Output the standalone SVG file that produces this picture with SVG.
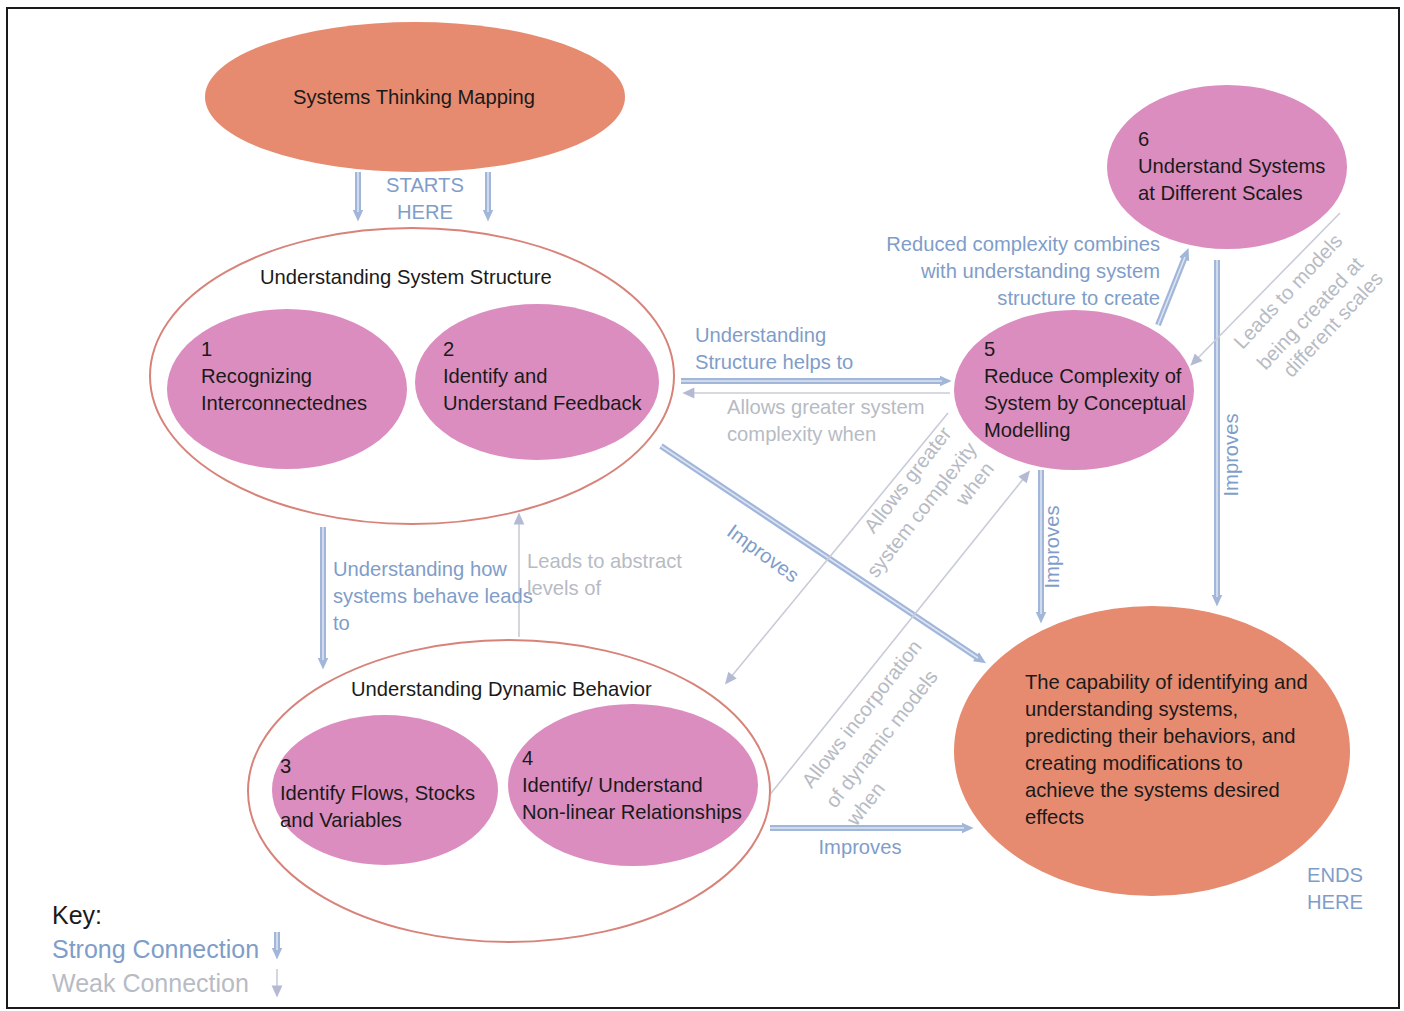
<svg xmlns="http://www.w3.org/2000/svg" width="1404" height="1011" viewBox="0 0 1404 1011">
  <style>
    text { font-family: "Liberation Sans", Arial, sans-serif; font-size: 20.2px; fill: #1a1a1a; }
    .salmon { fill: #e68b70; }
    .pink { fill: #db8dbf; }
    .group { fill: #ffffff; stroke: #d7837a; stroke-width: 2; }
    .blue { fill: #7f9dc9; }
    .grey { fill: #b7bbc4; }
    .key { font-size: 25px; }
    .strong { stroke: #a2b6da; stroke-width: 6; fill: none; }
    .strong-in { stroke: #dbe4f2; stroke-width: 1.6; fill: none; }
    .weak { stroke: #c8ccd8; stroke-width: 1.6; fill: none; }
    .mid { text-anchor: middle; }
  </style>
  <defs>
    <marker id="headStrong" viewBox="0 0 10 10" refX="2" refY="5" markerWidth="12" markerHeight="12" markerUnits="userSpaceOnUse" orient="auto">
      <path d="M0,0.5 L10,5 L0,9.5 z" fill="#a2b6da"/>
    </marker>
    <marker id="headWeak" viewBox="0 0 10 10" refX="2" refY="5" markerWidth="14" markerHeight="12" markerUnits="userSpaceOnUse" orient="auto">
      <path d="M0,0.5 L10,5 L0,9.5 z" fill="#b4b9d4"/>
    </marker>
  </defs>

  <rect x="0" y="0" width="1404" height="1011" fill="#ffffff"/>
  <rect x="7" y="8" width="1392" height="1000" fill="none" stroke="#1a1a1a" stroke-width="2"/>

  <!-- connectors -->
  <g id="connectors">
    <!-- strong connections -->
    <line class="strong" x1="358" y1="172" x2="358" y2="212" marker-end="url(#headStrong)"/>
    <line class="strong-in" x1="358" y1="172" x2="358" y2="212"/>
    <line class="strong" x1="488" y1="172" x2="488" y2="212" marker-end="url(#headStrong)"/>
    <line class="strong-in" x1="488" y1="172" x2="488" y2="212"/>

    <line class="strong" x1="681" y1="381" x2="942" y2="381" marker-end="url(#headStrong)"/>
    <line class="strong-in" x1="681" y1="381" x2="942" y2="381"/>

    <line class="strong" x1="661" y1="446" x2="978" y2="658" marker-end="url(#headStrong)"/>
    <line class="strong-in" x1="661" y1="446" x2="978" y2="658"/>

    <line class="strong" x1="323" y1="527" x2="323" y2="660" marker-end="url(#headStrong)"/>
    <line class="strong-in" x1="323" y1="527" x2="323" y2="660"/>

    <line class="strong" x1="1041" y1="470" x2="1041" y2="614" marker-end="url(#headStrong)"/>
    <line class="strong-in" x1="1041" y1="470" x2="1041" y2="614"/>

    <line class="strong" x1="1158" y1="325" x2="1185" y2="257" marker-end="url(#headStrong)"/>
    <line class="strong-in" x1="1158" y1="325" x2="1185" y2="257"/>

    <line class="strong" x1="1217" y1="260" x2="1217" y2="597" marker-end="url(#headStrong)"/>
    <line class="strong-in" x1="1217" y1="260" x2="1217" y2="597"/>

    <line class="strong" x1="770" y1="828" x2="964" y2="828" marker-end="url(#headStrong)"/>
    <line class="strong-in" x1="770" y1="828" x2="964" y2="828"/>

    <!-- weak connections -->
    <line class="weak" x1="950" y1="393" x2="692" y2="393" marker-end="url(#headWeak)"/>
    <line class="weak" x1="519" y1="637" x2="519" y2="522" marker-end="url(#headWeak)"/>
    <line class="weak" x1="948" y1="413" x2="731" y2="677" marker-end="url(#headWeak)"/>
    <line class="weak" x1="768" y1="797" x2="1024" y2="478" marker-end="url(#headWeak)"/>
    <line class="weak" x1="1340" y1="213" x2="1197" y2="359" marker-end="url(#headWeak)"/>
  </g>

  <!-- connector labels -->
  <g id="labels">
    <text class="blue mid" x="425" y="192">STARTS</text>
    <text class="blue mid" x="425" y="219">HERE</text>

    <text class="blue" x="695" y="342">Understanding</text>
    <text class="blue" x="695" y="369">Structure helps to</text>
    <text class="grey" x="727" y="414">Allows greater system</text>
    <text class="grey" x="727" y="441">complexity when</text>

    <text class="blue" x="333" y="576">Understanding how</text>
    <text class="blue" x="333" y="603">systems behave leads</text>
    <text class="blue" x="333" y="630">to</text>
    <text class="grey" x="527" y="568">Leads to abstract</text>
    <text class="grey" x="527" y="595">levels of</text>

    <text class="blue mid" transform="translate(759,559) rotate(36)">Improves</text>

    <text class="grey mid" transform="translate(913,484) rotate(-52)">Allows greater</text>
    <text class="grey mid" transform="translate(927,514) rotate(-52)">system complexity</text>
    <text class="grey mid" transform="translate(980,488) rotate(-52)">when</text>

    <text class="grey mid" transform="translate(867,718) rotate(-52)">Allows incorporation</text>
    <text class="grey mid" transform="translate(887,743) rotate(-52)">of dynamic models</text>
    <text class="grey mid" transform="translate(871,808) rotate(-52)">when</text>

    <text class="blue" text-anchor="end" x="1160" y="251">Reduced complexity combines</text>
    <text class="blue" text-anchor="end" x="1160" y="278">with understanding system</text>
    <text class="blue" text-anchor="end" x="1160" y="305">structure to create</text>

    <text class="grey mid" transform="translate(1293,296) rotate(-47)">Leads to models</text>
    <text class="grey mid" transform="translate(1315,318) rotate(-47)">being created at</text>
    <text class="grey mid" transform="translate(1338,329) rotate(-47)">different scales</text>

    <text class="blue mid" transform="translate(1059,547) rotate(-90)">Improves</text>
    <text class="blue mid" transform="translate(1238,455) rotate(-90)">Improves</text>

    <text class="blue mid" x="860" y="854">Improves</text>

    <text class="blue mid" x="1335" y="882">ENDS</text>
    <text class="blue mid" x="1335" y="909">HERE</text>
  </g>

  <!-- nodes -->
  <g id="start">
    <ellipse class="salmon" cx="415" cy="97" rx="210" ry="75"/>
    <text x="293" y="104">Systems Thinking Mapping</text>
  </g>

  <g id="structure">
    <ellipse class="group" cx="412" cy="376" rx="262" ry="148"/>
    <text x="260" y="284">Understanding System Structure</text>
  </g>

  <g id="node1">
    <ellipse class="pink" cx="287" cy="389" rx="120" ry="80"/>
    <text x="201" y="356">1</text>
    <text x="201" y="383">Recognizing</text>
    <text x="201" y="410">Interconnectednes</text>
  </g>

  <g id="node2">
    <ellipse class="pink" cx="537" cy="382" rx="122" ry="78"/>
    <text x="443" y="356">2</text>
    <text x="443" y="383">Identify and</text>
    <text x="443" y="410">Understand Feedback</text>
  </g>

  <g id="dynamic">
    <ellipse class="group" cx="509" cy="791" rx="261" ry="151"/>
    <text x="351" y="696">Understanding Dynamic Behavior</text>
  </g>

  <g id="node3">
    <ellipse class="pink" cx="385" cy="790" rx="113" ry="75"/>
    <text x="280" y="773">3</text>
    <text x="280" y="800">Identify Flows, Stocks</text>
    <text x="280" y="827">and Variables</text>
  </g>

  <g id="node4">
    <ellipse class="pink" cx="633" cy="785" rx="125" ry="81"/>
    <text x="522" y="765">4</text>
    <text x="522" y="792">Identify/ Understand</text>
    <text x="522" y="819">Non-linear Relationships</text>
  </g>

  <g id="node5">
    <ellipse class="pink" cx="1074" cy="390" rx="120" ry="80"/>
    <text x="984" y="356">5</text>
    <text x="984" y="383">Reduce Complexity of</text>
    <text x="984" y="410">System by Conceptual</text>
    <text x="984" y="437">Modelling</text>
  </g>

  <g id="node6">
    <ellipse class="pink" cx="1227" cy="167" rx="120" ry="82"/>
    <text x="1138" y="146">6</text>
    <text x="1138" y="173">Understand Systems</text>
    <text x="1138" y="200">at Different Scales</text>
  </g>

  <g id="goal">
    <ellipse class="salmon" cx="1152" cy="751" rx="198" ry="145"/>
    <text x="1025" y="689">The capability of identifying and</text>
    <text x="1025" y="716">understanding systems,</text>
    <text x="1025" y="743">predicting their behaviors, and</text>
    <text x="1025" y="770">creating modifications to</text>
    <text x="1025" y="797">achieve the systems desired</text>
    <text x="1025" y="824">effects</text>
  </g>

  <!-- key -->
  <g id="key">
    <text class="key" x="52" y="924">Key:</text>
    <text class="blue key" x="52" y="958">Strong Connection</text>
    <line class="strong" x1="277" y1="932" x2="277" y2="950" marker-end="url(#headStrong)"/>
    <line class="strong-in" x1="277" y1="932" x2="277" y2="950"/>
    <text class="grey key" x="52" y="992">Weak Connection</text>
    <line class="weak" x1="277" y1="969" x2="277" y2="988" marker-end="url(#headWeak)"/>
  </g>
</svg>
